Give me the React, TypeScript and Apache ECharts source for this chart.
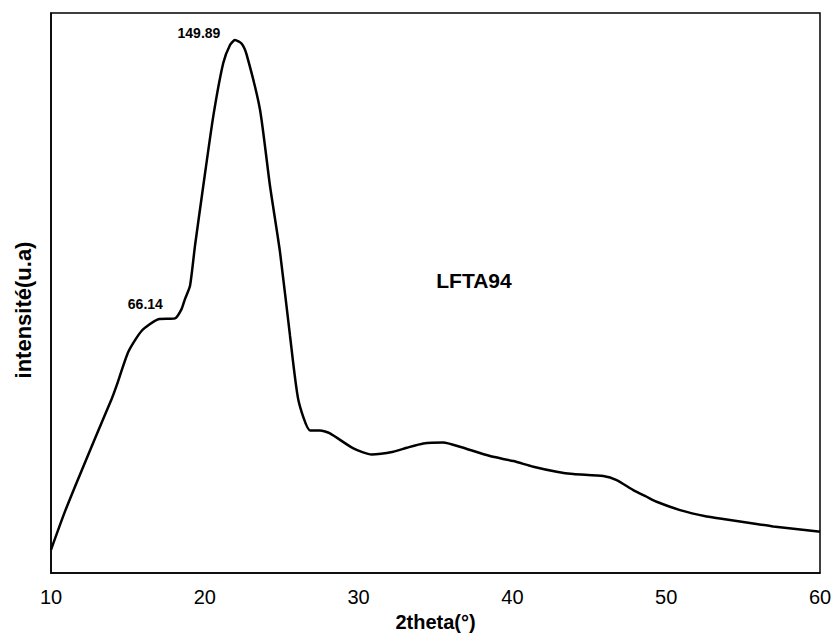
import React, { useEffect, useRef } from "react";
import * as echarts from "echarts";

const twoTheta = [
  10.0, 10.91, 11.78, 12.86, 13.95, 14.27, 15.03, 15.9, 16.98, 18.06, 18.49, 18.71,
  19.04, 19.36, 19.9, 20.55, 21.2, 21.64, 21.96, 22.4, 22.72, 23.59, 24.24, 24.89,
  25.54, 26.08, 26.84, 27.49, 28.14, 29.66, 30.85, 32.26, 33.13, 34.21, 35.51,
  36.59, 38.54, 40.06, 41.36, 42.88, 43.96, 45.91, 46.78, 47.86, 48.73, 49.38, 50.9,
  52.63, 53.93, 55.66, 56.96, 59.89, 60.0,
];
const intensity = [
  -3.0, 8.5, 18.4, 30.4, 42.3, 46.3, 56.4, 62.7, 66.14, 66.4, 69.2, 72.2,
  76.2, 88.1, 106.1, 127.0, 143.0, 148.4, 149.89, 148.8, 145.5, 129.0, 106.1, 86.3,
  61.2, 42.0, 32.8, 32.8, 31.9, 27.4, 25.6, 26.4, 27.6, 28.9, 29.2,
  27.9, 25.1, 23.6, 21.9, 20.4, 19.7, 19.1, 17.9, 14.9, 12.9, 11.4, 8.9,
  7.0, 6.1, 4.9, 4.0, 2.5, 2.4,
];
const xTicks = [10, 20, 30, 40, 50, 60];
const peakLabels = [
  { x: 21.96, y: 149.89, text: "149.89" },
  { x: 16.98, y: 66.14, text: "66.14" },
];
const sampleName = "LFTA94";
const xTitle = "2theta(°)";
const yTitle = "intensité(u.a)";

const FONT = "'Liberation Sans', Arial, sans-serif";

export default function App() {
  const ref = useRef<HTMLDivElement>(null);
  useEffect(() => {
    if (!ref.current) return;
    const chart = echarts.init(ref.current, undefined, { renderer: "svg" });
    const data = twoTheta.map((x, i) => [x, intensity[i]]);
    chart.setOption({
      animation: false,
      backgroundColor: "#fff",
      textStyle: { fontFamily: FONT },
      grid: {
        left: 51,
        top: 13,
        right: 16,
        bottom: 62,
        show: true,
        borderColor: "#000",
        borderWidth: 1.5,
        backgroundColor: "transparent",
      },
      xAxis: {
        type: "value",
        min: xTicks[0],
        max: xTicks[xTicks.length - 1],
        interval: 10,
        name: xTitle,
        nameLocation: "middle",
        nameGap: 36,
        nameTextStyle: { fontFamily: FONT, fontWeight: "bold", fontSize: 20, color: "#000" },
        axisLine: { show: true, onZero: false, lineStyle: { color: "#000", width: 1.5 } },
        axisTick: { show: false },
        splitLine: { show: false },
        axisLabel: { fontFamily: FONT, fontSize: 20, color: "#000", margin: 14 },
      },
      yAxis: {
        type: "value",
        min: -10,
        max: 158,
        axisLine: { show: true, onZero: false, lineStyle: { color: "#000", width: 1.5 } },
        axisTick: { show: false },
        axisLabel: { show: false },
        splitLine: { show: false },
      },
      series: [
        {
          type: "line",
          data,
          showSymbol: false,
          smooth: 0.2,
          lineStyle: { color: "#000", width: 2.5 },
          markPoint: {
            symbol: "circle",
            symbolSize: 0,
            data: peakLabels.map((p, i) => ({
              coord: [p.x, p.y],
              label: {
                show: true,
                formatter: p.text,
                fontFamily: FONT,
                fontWeight: "bold",
                fontSize: 14,
                color: "#000",
                offset: i === 0 ? [-36, -7] : [-13, -15],
              },
            })),
          },
        },
      ],
      graphic: [
        {
          type: "text",
          x: 474,
          y: 280,
          style: {
            text: sampleName,
            fontFamily: FONT,
            fontWeight: "bold",
            fontSize: 21,
            fill: "#000",
            align: "center",
            verticalAlign: "middle",
          },
        },
        {
          type: "text",
          x: 23,
          y: 310,
          rotation: Math.PI / 2,
          style: {
            text: yTitle,
            fontFamily: FONT,
            fontWeight: "bold",
            fontSize: 22,
            fill: "#000",
            align: "center",
            verticalAlign: "middle",
          },
        },
      ],
    });
    return () => chart.dispose();
  }, []);
  return (
    <div
      ref={ref}
      style={{ position: "fixed", left: 0, top: 0, width: 836, height: 637 }}
    />
  );
}
